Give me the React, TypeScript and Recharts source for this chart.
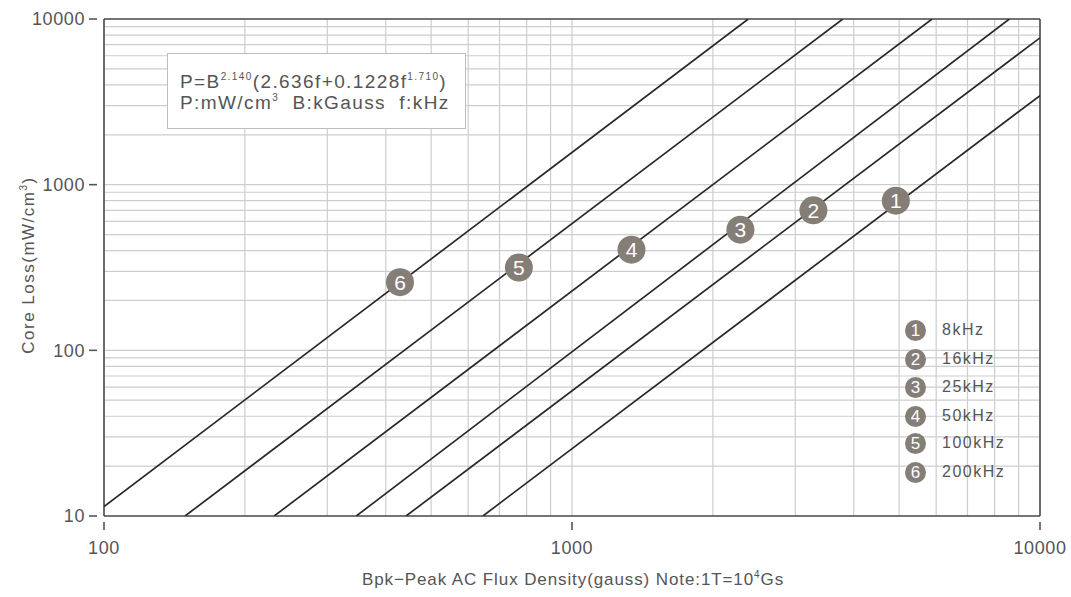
import * as React from "react";
import {
  LineChart,
  Line,
  XAxis,
  YAxis,
  ReferenceLine,
  ReferenceDot,
} from "recharts";

// curves: [Bpk gauss, core loss mW/cm3] end points (straight on log-log)
const freqLabels = ["8kHz", "16kHz", "25kHz", "50kHz", "100kHz", "200kHz"];
const curve8 = [
  { b: 645, p: 10 },
  { b: 10000, p: 3450 },
];
const curve16 = [
  { b: 442, p: 10 },
  { b: 10000, p: 7700 },
];
const curve25 = [
  { b: 346, p: 10 },
  { b: 8600, p: 10000 },
];
const curve50 = [
  { b: 231, p: 10 },
  { b: 5880, p: 10000 },
];
const curve100 = [
  { b: 149, p: 10 },
  { b: 3790, p: 10000 },
];
const curve200 = [
  { b: 100, p: 11.4 },
  { b: 2380, p: 10000 },
];
const curves = [curve8, curve16, curve25, curve50, curve100, curve200];

// numbered markers sitting on each curve
const markerB = [4920, 3280, 2290, 1340, 770, 429];
const markerP = [800, 700, 535, 405, 316, 258];

const xTicks = [100, 1000, 10000];
const yTicks = [10, 100, 1000, 10000];
const xDecades = [100, 1000];
const yDecades = [10, 100, 1000];
const minorSteps = [2, 3, 4, 5, 6, 7, 8, 9];

const FONT = "'Liberation Sans', Arial, sans-serif";
const TEXT = "#555";
const DOT = "#857e77";
const GRID = "#cdcdcd";
const FRAME = "#4a4646";

const xGrid = xDecades.flatMap((d) => minorSteps.map((s) => d * s)).concat([1000]);
const yGrid = yDecades.flatMap((d) => minorSteps.map((s) => d * s)).concat([100, 1000]);

const YTick = ({ x, y, payload }: any) => (
  <g>
    <text
      x={x - 19}
      y={y}
      dy="0.36em"
      textAnchor="end"
      fontSize={18}
      fontFamily={FONT}
      fill={TEXT}
      letterSpacing={0.6}
    >
      {payload.value}
    </text>
    <line x1={x - 15} x2={x - 7} y1={y} y2={y} stroke={TEXT} strokeWidth={1.6} />
  </g>
);

const XTick = ({ x, y, payload }: any) => (
  <g>
    <line x1={x} x2={x} y1={y + 6} y2={y + 14} stroke={TEXT} strokeWidth={1.6} />
    <text
      x={x}
      y={y + 32}
      dy="0.36em"
      textAnchor="middle"
      fontSize={18}
      fontFamily={FONT}
      fill={TEXT}
      letterSpacing={0.6}
    >
      {payload.value}
    </text>
  </g>
);

const NumberDot = (num: number) => (props: any) => (
  <g>
    <circle cx={props.cx} cy={props.cy} r={14} fill={DOT} />
    <text
      x={props.cx}
      y={props.cy}
      dy="0.36em"
      textAnchor="middle"
      fontSize={21}
      fontFamily={FONT}
      fill="#fff"
    >
      {num}
    </text>
  </g>
);

const legendTop = [330, 359, 387, 416, 443, 472];

export default function App() {
  return (
    <div
      style={{
        position: "absolute",
        left: 0,
        top: 0,
        width: 1071,
        height: 597,
        background: "#fff",
        fontFamily: FONT,
      }}
    >
      <LineChart
        width={1071}
        height={597}
        margin={{ top: 19, right: 31, bottom: 0, left: 0 }}
      >
        <XAxis
          dataKey="b"
          type="number"
          scale="log"
          domain={[100, 10000]}
          ticks={xTicks}
          allowDataOverflow
          axisLine={false}
          tickLine={false}
          tickSize={0}
          tickMargin={0}
          height={81}
          tick={<XTick />}
          interval={0}
        />
        <YAxis
          dataKey="p"
          type="number"
          scale="log"
          domain={[10, 10000]}
          ticks={yTicks}
          allowDataOverflow
          axisLine={false}
          tickLine={false}
          tickSize={0}
          tickMargin={0}
          width={104}
          tick={<YTick />}
          interval={0}
        />
        {xGrid.map((v) => (
          <ReferenceLine key={`vx${v}`} x={v} stroke={GRID} strokeWidth={1.2} />
        ))}
        {yGrid.map((v) => (
          <ReferenceLine key={`hy${v}`} y={v} stroke={GRID} strokeWidth={1.2} />
        ))}
        <ReferenceLine x={100} stroke={FRAME} strokeWidth={1.6} />
        <ReferenceLine x={10000} stroke={FRAME} strokeWidth={1.6} />
        <ReferenceLine y={10} stroke={FRAME} strokeWidth={1.6} />
        <ReferenceLine y={10000} stroke={FRAME} strokeWidth={1.6} />
        {curves.map((c, i) => (
          <Line
            key={freqLabels[i]}
            data={c}
            dataKey="p"
            type="linear"
            stroke="#2b2727"
            strokeWidth={1.7}
            dot={false}
            activeDot={false}
            isAnimationActive={false}
          />
        ))}
        {markerB.map((b, i) => (
          <ReferenceDot
            key={`m${i}`}
            x={b}
            y={markerP[i]}
            r={14}
            shape={NumberDot(i + 1)}
          />
        ))}
      </LineChart>

      {/* formula box */}
      <div
        style={{
          position: "absolute",
          left: 167,
          top: 53,
          width: 299,
          height: 76,
          boxSizing: "border-box",
          border: "1.5px solid #bdbdbd",
          background: "#fff",
          color: TEXT,
          fontSize: 19,
          letterSpacing: 1.4,
          lineHeight: "21px",
          padding: "17px 0 0 12px",
          whiteSpace: "nowrap",
        }}
      >
        <div>
          P=B<sup style={{ fontSize: 10, verticalAlign: 8, lineHeight: 0 }}>2.140</sup>
          (2.636f+0.1228f
          <sup style={{ fontSize: 10, verticalAlign: 8, lineHeight: 0 }}>1.710</sup>)
        </div>
        <div>
          P:mW/cm<sup style={{ fontSize: 10, verticalAlign: 8, lineHeight: 0 }}>3</sup>
          &nbsp;&nbsp;B:kGauss&nbsp;&nbsp;f:kHz
        </div>
      </div>

      {/* legend */}
      {freqLabels.map((f, i) => (
        <div
          key={f}
          style={{
            position: "absolute",
            left: 905,
            top: legendTop[i] - 11,
            height: 22,
            display: "flex",
            alignItems: "center",
            color: TEXT,
            fontSize: 16,
            letterSpacing: 1.5,
          }}
        >
          <span
            style={{
              display: "inline-block",
              width: 21,
              height: 21,
              borderRadius: "50%",
              background: DOT,
              color: "#fff",
              fontSize: 17,
              lineHeight: "21px",
              textAlign: "center",
              letterSpacing: 0,
              marginRight: 16,
            }}
          >
            {i + 1}
          </span>
          {f}
        </div>
      ))}

      {/* axis titles */}
      <div
        style={{
          position: "absolute",
          left: 29,
          top: 265,
          transform: "translate(-50%, -50%) rotate(-90deg)",
          whiteSpace: "nowrap",
          color: TEXT,
          fontSize: 17,
          letterSpacing: 1.5,
        }}
      >
        Core Loss(mW/cm<sup style={{ fontSize: 10, verticalAlign: 7, lineHeight: 0 }}>3</sup>)
      </div>
      <div
        style={{
          position: "absolute",
          left: 573,
          top: 580,
          transform: "translate(-50%, -50%)",
          whiteSpace: "nowrap",
          color: TEXT,
          fontSize: 17,
          letterSpacing: 0.9,
        }}
      >
        Bpk−Peak AC Flux Density(gauss) Note:1T=10
        <sup style={{ fontSize: 10, verticalAlign: 7, lineHeight: 0 }}>4</sup>Gs
      </div>
    </div>
  );
}
